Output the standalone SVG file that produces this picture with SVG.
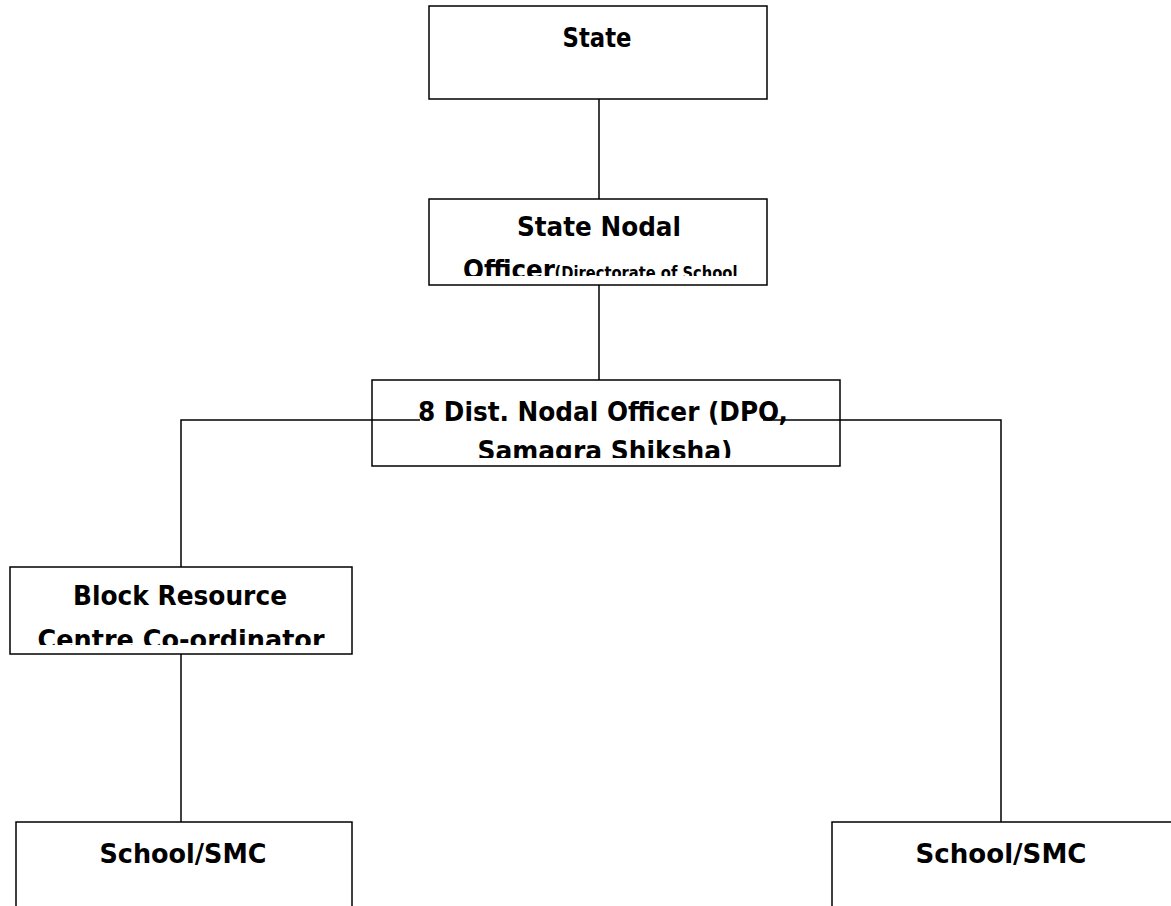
<svg xmlns="http://www.w3.org/2000/svg" width="1171" height="906" viewBox="0 0 1171 906">
<style>
.box{fill:#fff;stroke:#000;stroke-width:1.5}
.ln{fill:none;stroke:#000;stroke-width:1.5}
.t{font-family:"DejaVu Sans","Liberation Sans",sans-serif;font-weight:bold;font-size:26px;fill:#000;text-anchor:middle}
.s{font-size:17px}
</style>
<defs>
<clipPath id="c1"><rect x="429" y="199" width="338" height="77"/></clipPath>
<clipPath id="c2"><rect x="372" y="380" width="468" height="78"/></clipPath>
<clipPath id="c3"><rect x="10" y="567" width="342" height="78"/></clipPath>
</defs>
<rect width="1171" height="906" fill="#fff"/>
<g id="state">
<rect class="box" x="429" y="6" width="338" height="93"/>
<text class="t" x="597" y="47" textLength="69" lengthAdjust="spacingAndGlyphs">State</text>
</g>
<g id="state-nodal">
<rect class="box" x="429" y="199" width="338" height="86"/>
<g clip-path="url(#c1)">
<text class="t" x="599" y="236" textLength="164" lengthAdjust="spacingAndGlyphs">State Nodal</text>
<text class="t" x="509" y="279" textLength="92" lengthAdjust="spacingAndGlyphs">Officer</text>
<text class="t s" x="646" y="279" textLength="183" lengthAdjust="spacingAndGlyphs">(Directorate of School</text>
</g>
</g>
<g id="dist">
<rect class="box" x="372" y="380" width="468" height="86"/>
<g clip-path="url(#c2)">
<text class="t" x="603" y="421" textLength="370" lengthAdjust="spacingAndGlyphs">8 Dist. Nodal Officer (DPO,</text>
<text class="t" x="605" y="460" textLength="255" lengthAdjust="spacingAndGlyphs">Samagra Shiksha)</text>
</g>
</g>
<g id="block">
<rect class="box" x="10" y="567" width="342" height="87"/>
<g clip-path="url(#c3)">
<text class="t" x="180" y="605" textLength="214" lengthAdjust="spacingAndGlyphs">Block Resource</text>
<text class="t" x="181" y="649" textLength="287" lengthAdjust="spacingAndGlyphs">Centre Co-ordinator</text>
</g>
</g>
<g id="school-left">
<rect class="box" x="16" y="822" width="336" height="100"/>
<text class="t" x="183" y="863" textLength="167" lengthAdjust="spacingAndGlyphs">School/SMC</text>
</g>
<g id="school-right">
<rect class="box" x="832" y="822" width="360" height="100"/>
<text class="t" x="1001" y="863" textLength="171" lengthAdjust="spacingAndGlyphs">School/SMC</text>
</g>
<g id="connectors">
<line class="ln" x1="599" y1="99" x2="599" y2="199"/>
<line class="ln" x1="599" y1="285" x2="599" y2="380"/>
<polyline class="ln" points="420,420 181,420 181,567"/>
<polyline class="ln" points="763,420 1001,420 1001,822"/>
<line class="ln" x1="181" y1="654" x2="181" y2="822"/>
</g>
</svg>
